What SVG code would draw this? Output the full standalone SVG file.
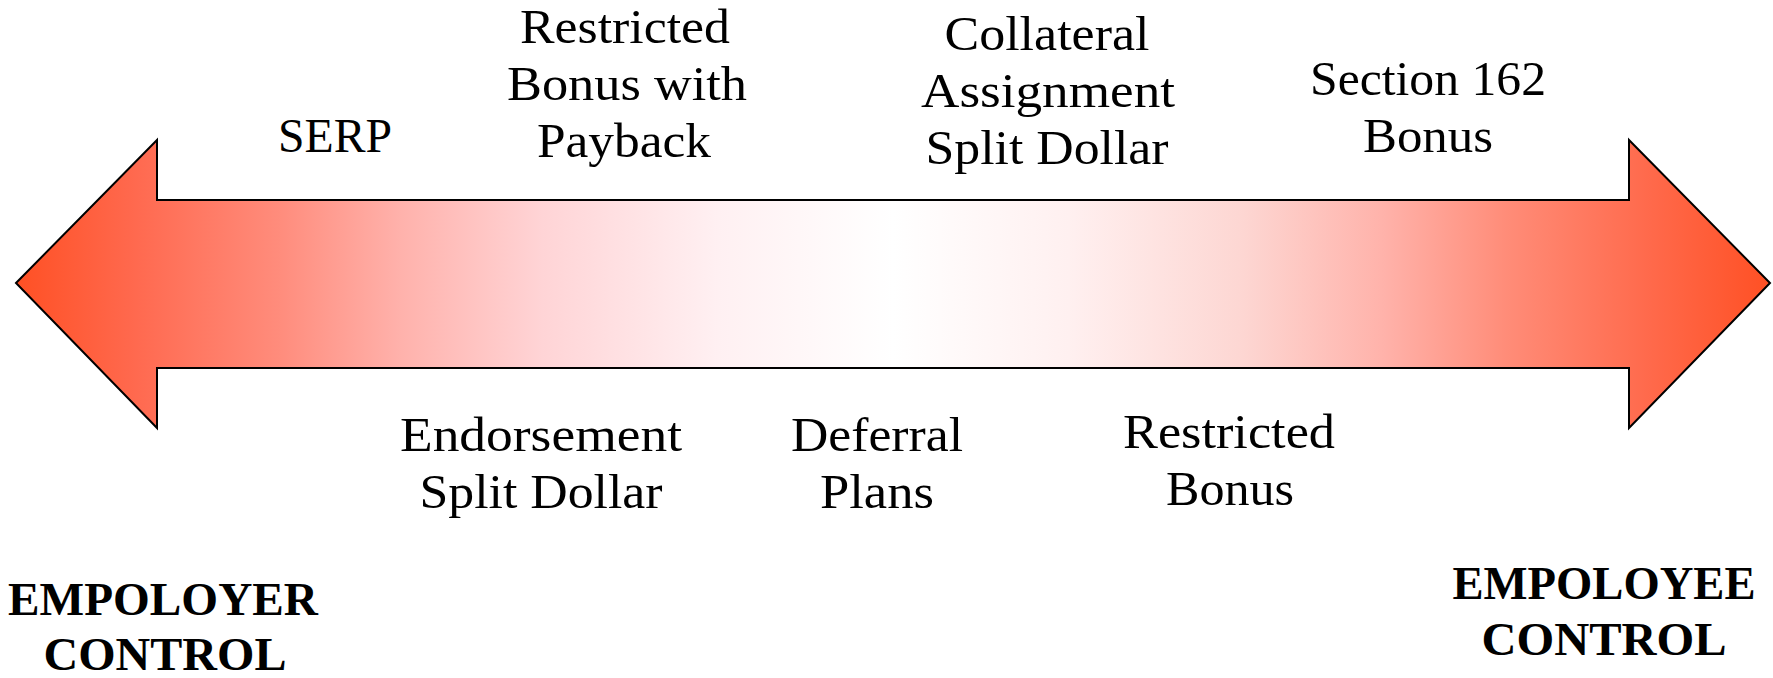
<svg xmlns="http://www.w3.org/2000/svg" width="1773" height="678" viewBox="0 0 1773 678">
  <defs>
    <linearGradient id="grad" x1="16" y1="0" x2="1770" y2="0" gradientUnits="userSpaceOnUse">
      <stop offset="0" stop-color="#FF5024"/>
      <stop offset="0.07" stop-color="#FF6A50"/>
      <stop offset="0.15" stop-color="#FF8C7C"/>
      <stop offset="0.22" stop-color="#FFB2AC"/>
      <stop offset="0.3" stop-color="#FFD4D6"/>
      <stop offset="0.4" stop-color="#FFF0F2"/>
      <stop offset="0.5" stop-color="#FFFFFF"/>
      <stop offset="0.6" stop-color="#FFF0F0"/>
      <stop offset="0.7" stop-color="#FDD6D2"/>
      <stop offset="0.78" stop-color="#FFB2AA"/>
      <stop offset="0.85" stop-color="#FF8C78"/>
      <stop offset="0.93" stop-color="#FF6A4C"/>
      <stop offset="1" stop-color="#FF5024"/>
    </linearGradient>
  </defs>
  <style>
    .lbl { font-family: "Liberation Serif", "Times New Roman", serif; font-size: 48px; fill: #000; text-anchor: middle; }
    .bold { font-family: "Liberation Serif", "Times New Roman", serif; font-size: 47px; font-weight: bold; fill: #000; text-anchor: middle; }
    .arrow { fill: url(#grad); stroke: #000; stroke-width: 2; stroke-linejoin: miter; }
  </style>
  <rect width="1773" height="678" fill="#FFFFFF"/>
  <g id="connectors">
    <path class="arrow" d="M16,283 L157,140 L157,200 L1629,200 L1629,140 L1770,283 L1629,428 L1629,368 L157,368 L157,428 Z"/>
  </g>
  <g id="serp">
    <text class="lbl" x="335" y="152" textLength="114" lengthAdjust="spacingAndGlyphs">SERP</text>
  </g>
  <g id="restricted-bonus-payback">
    <text class="lbl" x="625" y="43" textLength="210" lengthAdjust="spacingAndGlyphs">Restricted</text>
    <text class="lbl" x="627" y="100" textLength="240" lengthAdjust="spacingAndGlyphs">Bonus with</text>
    <text class="lbl" x="624" y="157" textLength="174" lengthAdjust="spacingAndGlyphs">Payback</text>
  </g>
  <g id="collateral-assignment">
    <text class="lbl" x="1047" y="50" textLength="205" lengthAdjust="spacingAndGlyphs">Collateral</text>
    <text class="lbl" x="1048" y="107" textLength="254" lengthAdjust="spacingAndGlyphs">Assignment</text>
    <text class="lbl" x="1047" y="164" textLength="243" lengthAdjust="spacingAndGlyphs">Split Dollar</text>
  </g>
  <g id="section-162">
    <text class="lbl" x="1428" y="95" textLength="236" lengthAdjust="spacingAndGlyphs">Section 162</text>
    <text class="lbl" x="1428" y="152" textLength="130" lengthAdjust="spacingAndGlyphs">Bonus</text>
  </g>
  <g id="endorsement">
    <text class="lbl" x="541" y="451" textLength="282" lengthAdjust="spacingAndGlyphs">Endorsement</text>
    <text class="lbl" x="541" y="508" textLength="243" lengthAdjust="spacingAndGlyphs">Split Dollar</text>
  </g>
  <g id="deferral">
    <text class="lbl" x="877" y="451" textLength="172" lengthAdjust="spacingAndGlyphs">Deferral</text>
    <text class="lbl" x="877" y="508" textLength="114" lengthAdjust="spacingAndGlyphs">Plans</text>
  </g>
  <g id="restricted-bonus">
    <text class="lbl" x="1229" y="448" textLength="212" lengthAdjust="spacingAndGlyphs">Restricted</text>
    <text class="lbl" x="1230" y="505" textLength="128" lengthAdjust="spacingAndGlyphs">Bonus</text>
  </g>
  <g id="employer-control">
    <text class="bold" x="163" y="615" textLength="310" lengthAdjust="spacingAndGlyphs">EMPOLOYER</text>
    <text class="bold" x="165" y="670" textLength="243" lengthAdjust="spacingAndGlyphs">CONTROL</text>
  </g>
  <g id="employee-control">
    <text class="bold" x="1604" y="599" textLength="303" lengthAdjust="spacingAndGlyphs">EMPOLOYEE</text>
    <text class="bold" x="1604" y="655" textLength="245" lengthAdjust="spacingAndGlyphs">CONTROL</text>
  </g>
</svg>
